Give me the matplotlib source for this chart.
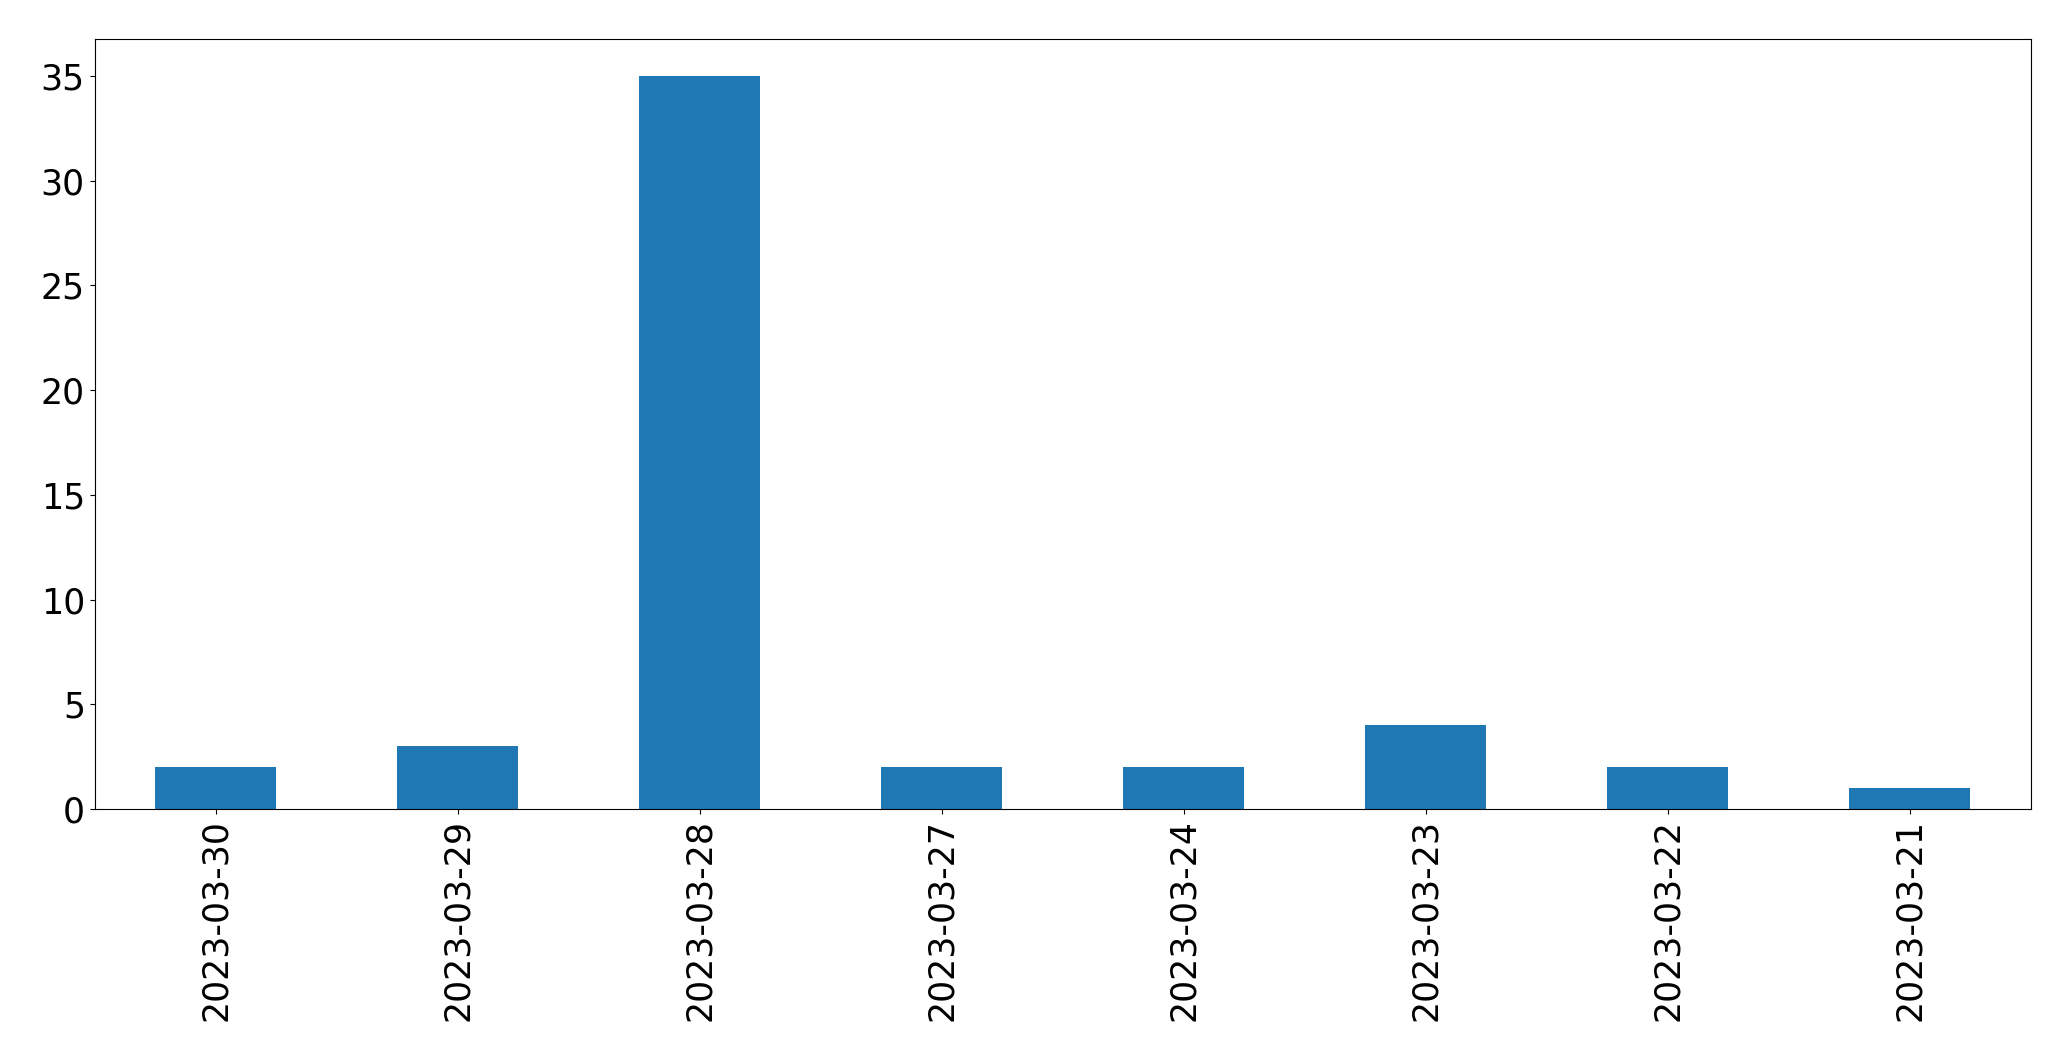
import pandas as pd
import matplotlib
matplotlib.use("Agg")
import matplotlib.pyplot as plt

dates = ["2023-03-30", "2023-03-29", "2023-03-28", "2023-03-27",
         "2023-03-24", "2023-03-23", "2023-03-22", "2023-03-21"]
counts = [2, 3, 35, 2, 2, 4, 2, 1]

s = pd.Series(counts, index=dates)

fig = plt.figure(figsize=(20.71, 10.61), dpi=100)
ax = fig.add_axes([0.0457, 0.2375, 0.9349, 0.7255])
s.plot(kind='bar', ax=ax, fontsize=25)
plt.savefig("out.png", dpi=100)
